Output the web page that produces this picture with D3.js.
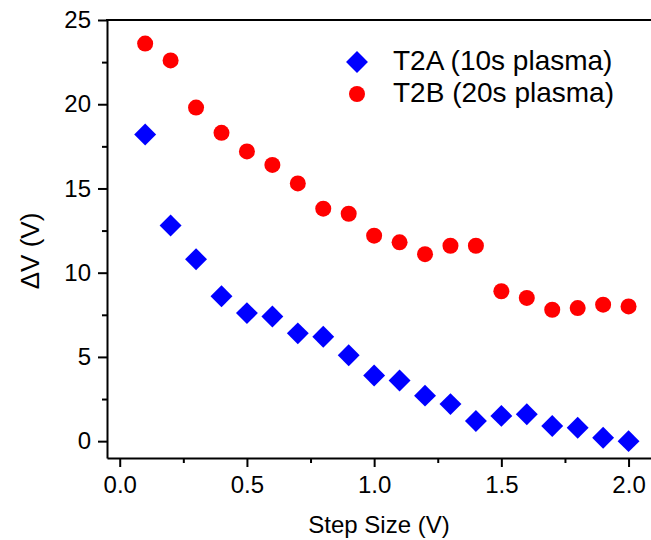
<!doctype html>
<html>
<head>
  <meta charset="utf-8">
  <title>Delta V vs step size</title>
  <script src="https://cdnjs.cloudflare.com/ajax/libs/d3/7.8.5/d3.min.js"></script>
  <style>
    body { margin: 0; background: #fff; }
    text { font-family: Arial, "Liberation Sans", sans-serif; fill: #000; }
  </style>
</head>
<body>
  <div id="chart"></div>
  <script>
    // step sizes (V)
    const steps = [0.1, 0.2, 0.3, 0.4, 0.5, 0.6, 0.7, 0.8, 0.9, 1.0,
                   1.1, 1.2, 1.3, 1.4, 1.5, 1.6, 1.7, 1.8, 1.9, 2.0];
    // delta V
    const t2a = [18.2, 12.8, 10.8, 8.6, 7.6, 7.4, 6.4, 6.2, 5.1, 3.9,
                 3.6, 2.7, 2.2, 1.2, 1.5, 1.6, 0.9, 0.8, 0.2, 0.0];
    const t2b = [23.6, 22.6, 19.8, 18.3, 17.2, 16.4, 15.3, 13.8, 13.5, 12.2,
                 11.8, 11.1, 11.6, 11.6, 8.9, 8.5, 7.8, 7.9, 8.1, 8.0];
    const xTicks = [0.0, 0.5, 1.0, 1.5, 2.0];
    const yTicks = [0, 5, 10, 15, 20, 25];
    const seriesNames = ["T2A (10s plasma)", "T2B (20s plasma)"];

    const W = 651, H = 540;
    const svg = d3.select("#chart").append("svg")
      .attr("width", W).attr("height", H);

    const x = d3.scaleLinear().domain([-0.05, 2.1]).range([107, 654]);
    const y = d3.scaleLinear().domain([-1, 25]).range([458, 20]);

    // minor ticks
    const xMinor = d3.range(0, 2.01, 0.25).filter(v => !xTicks.includes(v));
    const yMinor = d3.range(0, 25.01, 2.5).filter(v => !yTicks.includes(v));

    const xAxis = svg.append("g")
      .attr("transform", `translate(0,${y(-1)})`)
      .call(d3.axisBottom(x).tickValues(xTicks).tickFormat(d3.format(".1f"))
        .tickSize(9).tickPadding(9).tickSizeOuter(0));
    svg.append("g")
      .attr("transform", `translate(0,${y(-1)})`)
      .call(d3.axisBottom(x).tickValues(xMinor).tickFormat("").tickSize(5).tickSizeOuter(0))
      .select(".domain").remove();

    const yAxis = svg.append("g")
      .attr("transform", `translate(${x(-0.05)},0)`)
      .call(d3.axisLeft(y).tickValues(yTicks).tickSize(9).tickPadding(7).tickSizeOuter(0));
    svg.append("g")
      .attr("transform", `translate(${x(-0.05)},0)`)
      .call(d3.axisLeft(y).tickValues(yMinor).tickFormat("").tickSize(5).tickSizeOuter(0))
      .select(".domain").remove();

    svg.selectAll(".domain, .tick line")
      .attr("stroke", "#000").attr("stroke-width", 2);
    xAxis.selectAll("text").style("font-size", "24px");
    yAxis.selectAll("text").style("font-size", "24px");

    // top frame line
    svg.append("line")
      .attr("x1", x(-0.05) - 1).attr("x2", W)
      .attr("y1", y(25)).attr("y2", y(25))
      .attr("stroke", "#000").attr("stroke-width", 2);

    // axis titles
    svg.append("text")
      .attr("x", 379).attr("y", 533)
      .attr("text-anchor", "middle")
      .style("font-size", "24px")
      .text("Step Size (V)");
    svg.append("text")
      .attr("transform", "translate(39,251) rotate(-90)")
      .attr("text-anchor", "middle")
      .style("font-size", "26px")
      .text("\u0394V (V)");

    const diamond = d3.symbol().type(d3.symbolSquare).size(240);

    svg.append("g").selectAll("path")
      .data(steps.map((s, i) => [s, t2a[i]]))
      .join("path")
      .attr("d", diamond)
      .attr("transform", d => `translate(${x(d[0])},${y(d[1])}) rotate(45)`)
      .attr("fill", "#0000ff");

    svg.append("g").selectAll("circle")
      .data(steps.map((s, i) => [s, t2b[i]]))
      .join("circle")
      .attr("cx", d => x(d[0])).attr("cy", d => y(d[1]))
      .attr("r", 8)
      .attr("fill", "#ff0000");

    // legend
    const legend = svg.append("g").attr("transform", "translate(357,62)");
    legend.append("path")
      .attr("d", diamond)
      .attr("transform", "rotate(45)")
      .attr("fill", "#0000ff");
    legend.append("circle")
      .attr("cx", 0).attr("cy", 32).attr("r", 8)
      .attr("fill", "#ff0000");
    legend.selectAll("text.lbl")
      .data(seriesNames)
      .join("text")
      .attr("class", "lbl")
      .attr("x", 36).attr("y", (d, i) => i * 32 + 8)
      .style("font-size", "28px")
      .text(d => d);
  </script>
</body>
</html>
